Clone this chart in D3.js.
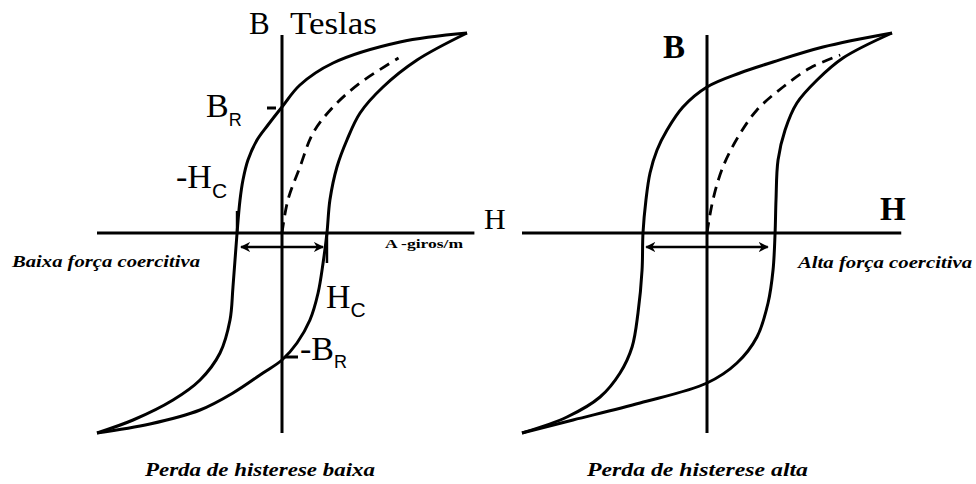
<!DOCTYPE html>
<html>
<head>
<meta charset="utf-8">
<script src="https://cdn.jsdelivr.net/npm/d3@7"></script>
<style>
  html, body { margin: 0; padding: 0; background: #fff; }
  svg { display: block; }
</style>
</head>
<body>
<svg id="chart" width="976" height="484"></svg>
<script>
// Hysteresis loops, normalised units: H (field) and B (flux density) in [-1, 1].

// Soft material (low coercive force)
const lowUpper = [[1, 1], [0.638, 0.955], [0.276, 0.85], [0.097, 0.74], [0, 0.63], [-0.076, 0.54],
  [-0.135, 0.465], [-0.184, 0.365], [-0.211, 0.265], [-0.227, 0.165], [-0.243, 0], [-0.265, -0.27],
  [-0.281, -0.435], [-0.335, -0.60], [-0.443, -0.735], [-0.589, -0.835], [-0.805, -0.935], [-1, -1]];
const lowLower = [[-1, -1], [-0.714, -0.955], [-0.443, -0.885], [-0.265, -0.80], [-0.103, -0.70],
  [0, -0.635], [0.081, -0.55], [0.151, -0.435], [0.195, -0.30], [0.222, -0.15], [0.243, 0],
  [0.259, 0.165], [0.297, 0.33], [0.351, 0.465], [0.422, 0.60], [0.546, 0.73], [0.73, 0.865], [1, 1]];
const lowInitial = [[0, 0], [0.032, 0.165], [0.097, 0.33], [0.168, 0.5], [0.276, 0.63], [0.422, 0.75], [0.63, 0.875]];

// Hard material (high coercive force)
const highUpper = [[1, 1], [0.627, 0.93], [0.357, 0.855], [0.178, 0.80], [0, 0.73], [-0.130, 0.63],
  [-0.216, 0.515], [-0.27, 0.415], [-0.308, 0.30], [-0.33, 0.165], [-0.346, 0], [-0.351, -0.185],
  [-0.373, -0.40], [-0.405, -0.57], [-0.47, -0.70], [-0.578, -0.82], [-0.757, -0.92], [-1, -1]];
const highLower = [[-1, -1], [-0.724, -0.935], [-0.362, -0.85], [0, -0.75], [0.162, -0.65], [0.27, -0.52],
  [0.33, -0.35], [0.357, -0.185], [0.368, 0], [0.373, 0.165], [0.384, 0.365], [0.422, 0.515],
  [0.486, 0.65], [0.595, 0.765], [0.735, 0.875], [1, 1]];
const highInitial = [[0, 0], [0.032, 0.165], [0.086, 0.33], [0.168, 0.48], [0.27, 0.615], [0.411, 0.73],
  [0.557, 0.825], [0.72, 0.89]];

// Coercive force and remanence markers
const lowCoercive = 0.243;
const lowRemanence = 0.63;
const highCoercive = 0.35;

// Texts
const lowCaption = "Perda de histerese baixa";
const highCaption = "Perda de histerese alta";
const lowNote = "Baixa força coercitiva";
const highNote = "Alta força coercitiva";
const unitLabel = "A -giros/m";

const SERIF = "Liberation Serif";
const SANS = "Liberation Sans";

const svg = d3.select("#chart");

const defs = svg.append("defs");
defs.append("marker")
  .attr("id", "arrow").attr("viewBox", "0 0 10 10")
  .attr("refX", 9).attr("refY", 5)
  .attr("markerWidth", 4.2).attr("markerHeight", 4.2)
  .attr("orient", "auto-start-reverse")
  .append("path").attr("d", "M0,0 L10,5 L0,10 L3,5 Z").attr("fill", "#000");

function panel(cx, cy, upper, lower, initial, opts) {
  const x = d3.scaleLinear().domain([-1, 1]).range([cx - 185, cx + 185]);
  const y = d3.scaleLinear().domain([-1, 1]).range([cy + 200, cy - 200]);
  const g = svg.append("g");
  const line = d3.line().x(d => x(d[0])).y(d => y(d[1])).curve(d3.curveCatmullRom.alpha(0.5));

  // axes
  g.append("line").attr("x1", x(-1)).attr("x2", x(opts.hMax)).attr("y1", y(0)).attr("y2", y(0))
    .attr("stroke", "#000").attr("stroke-width", 3);
  g.append("line").attr("x1", x(0)).attr("x2", x(0)).attr("y1", y(opts.bMax)).attr("y2", y(-1))
    .attr("stroke", "#000").attr("stroke-width", 3);

  // loop branches
  [upper, lower].forEach(d => g.append("path").attr("d", line(d))
    .attr("fill", "none").attr("stroke", "#000").attr("stroke-width", 3).attr("stroke-linejoin", "round"));
  g.append("path").attr("d", line(initial))
    .attr("fill", "none").attr("stroke", "#000").attr("stroke-width", 2.8)
    .attr("stroke-dasharray", "11,7");

  // coercive-force arrow
  const hc = opts.coercive;
  g.append("line").attr("x1", x(-hc) + 4).attr("x2", x(hc) - 4)
    .attr("y1", y(0) + 14).attr("y2", y(0) + 14)
    .attr("stroke", "#000").attr("stroke-width", 2.4)
    .attr("marker-start", "url(#arrow)").attr("marker-end", "url(#arrow)");
  return { g, x, y };
}

function label(g, x, y, size, txt, family) {
  const t = g.append("text").attr("x", x).attr("y", y)
    .style("font-family", family || SERIF).style("font-size", size + "px");
  if (txt) t.text(txt);
  return t;
}
function sub(t, txt, size, dy) {
  t.append("tspan").style("font-family", SANS).style("font-size", size + "px").attr("dy", dy).text(txt);
}

// ---------- left panel ----------
const L = panel(282, 233, lowUpper, lowLower, lowInitial, { hMax: 1.04, bMax: 0.99, coercive: lowCoercive });
{
  const { g, x, y } = L;
  // small ticks at the coercive points
  g.append("line").attr("x1", x(-lowCoercive)).attr("x2", x(-lowCoercive)).attr("y1", y(0) - 22).attr("y2", y(0))
    .attr("stroke", "#000").attr("stroke-width", 2.5);
  g.append("line").attr("x1", x(lowCoercive)).attr("x2", x(lowCoercive)).attr("y1", y(0)).attr("y2", y(0) + 30)
    .attr("stroke", "#000").attr("stroke-width", 2.5);
  // remanence dashes
  g.append("line").attr("x1", x(0) - 15).attr("x2", x(0) - 6).attr("y1", y(lowRemanence) + 1).attr("y2", y(lowRemanence) + 1)
    .attr("stroke", "#000").attr("stroke-width", 3);
  g.append("line").attr("x1", x(0) + 3).attr("x2", x(0) + 16).attr("y1", y(-lowRemanence) - 2).attr("y2", y(-lowRemanence) - 2)
    .attr("stroke", "#000").attr("stroke-width", 3);

  // B Teslas
  label(g, 249, 34, 31, "B");
  label(g, 290, 34, 31, "Teslas").attr("textLength", 87).attr("lengthAdjust", "spacingAndGlyphs");
  // H
  label(g, 484, 229, 30, "H");
  // unit
  label(g, 385, 248, 13, unitLabel).style("font-weight", "bold")
    .attr("textLength", 78).attr("lengthAdjust", "spacingAndGlyphs");

  // B_R
  const t1 = label(g, 206, 117, 34); t1.append("tspan").text("B"); sub(t1, "R", 18, 9);
  // -H_C
  const t2 = label(g, 176, 188, 34); t2.append("tspan").text("-H"); sub(t2, "C", 21, 10);
  // H_C
  const t3 = label(g, 326, 308, 34); t3.append("tspan").text("H"); sub(t3, "C", 21, 9);
  // -B_R
  const t4 = label(g, 300, 360, 34); t4.append("tspan").text("-B"); sub(t4, "R", 18, 8);

  label(g, 12, 267, 16, lowNote).style("font-weight", "bold").style("font-style", "italic")
    .attr("textLength", 188).attr("lengthAdjust", "spacingAndGlyphs");
  label(g, 145, 476, 19, lowCaption).style("font-weight", "bold").style("font-style", "italic")
    .attr("textLength", 230).attr("lengthAdjust", "spacingAndGlyphs");
}

// ---------- right panel ----------
const R = panel(707, 233, highUpper, highLower, highInitial, { hMax: 1.05, bMax: 0.99, coercive: highCoercive });
{
  const { g } = R;
  label(g, 663, 58, 33, "B").style("font-weight", "bold");
  label(g, 880, 220, 33, "H").style("font-weight", "bold");
  label(g, 798, 268, 16, highNote).style("font-weight", "bold").style("font-style", "italic")
    .attr("textLength", 174).attr("lengthAdjust", "spacingAndGlyphs");
  label(g, 587, 476, 19, highCaption).style("font-weight", "bold").style("font-style", "italic")
    .attr("textLength", 221).attr("lengthAdjust", "spacingAndGlyphs");
}
</script>
</body>
</html>
